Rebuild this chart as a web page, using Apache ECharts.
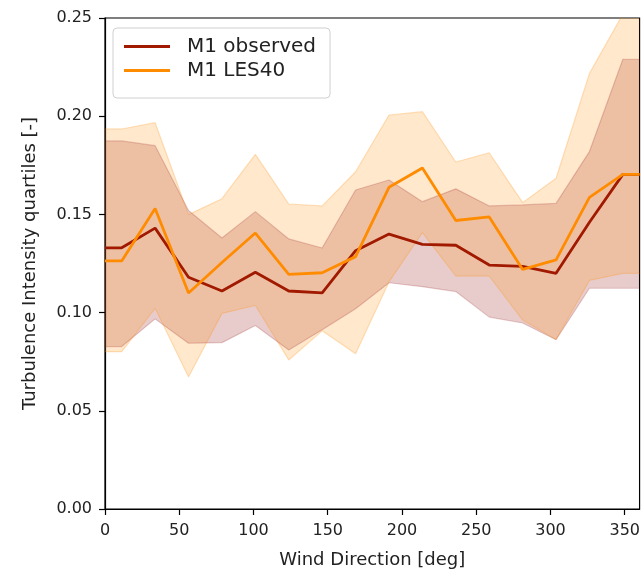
<!DOCTYPE html>
<html>
<head>
<meta charset="utf-8">
<script src="https://cdn.jsdelivr.net/npm/echarts@6/dist/echarts.min.js"></script>
<style>
html,body{margin:0;padding:0;background:#fff;}
#chart{width:643px;height:574px;}
</style>
</head>
<body>
<div id="chart"></div>
<script>
// Wind direction bins (deg)
var dirs = [0, 11.25, 33.75, 56.25, 78.75, 101.25, 123.75, 146.25, 168.75, 191.25, 213.75, 236.25, 258.75, 281.25, 303.75, 326.25, 348.75, 360];
// M1 observed: median and quartiles
var obsMedian = [0.133, 0.133, 0.143, 0.118, 0.111, 0.1205, 0.111, 0.110, 0.1315, 0.140, 0.1347, 0.1343, 0.1242, 0.1235, 0.120, 0.146, 0.1704, 0.1704];
var obsLow = [0.0827, 0.0827, 0.0968, 0.0844, 0.0847, 0.0934, 0.081, 0.0913, 0.102, 0.1152, 0.1132, 0.1107, 0.0977, 0.0947, 0.0862, 0.1124, 0.1124, 0.1124];
var obsHigh = [0.1874, 0.1874, 0.1850, 0.152, 0.138, 0.1514, 0.1375, 0.1329, 0.1624, 0.1675, 0.1565, 0.163, 0.1543, 0.1548, 0.1556, 0.182, 0.229, 0.229];
// M1 LES40: median and quartiles
var lesMedian = [0.1263, 0.1263, 0.153, 0.110, 0.1255, 0.1405, 0.1195, 0.1203, 0.1285, 0.1638, 0.1736, 0.1469, 0.1487, 0.122, 0.1268, 0.1587, 0.1704, 0.1704];
var lesLow = [0.0801, 0.0801, 0.1022, 0.0672, 0.0996, 0.1036, 0.0759, 0.0907, 0.0791, 0.1156, 0.1407, 0.1186, 0.1186, 0.0962, 0.0863, 0.1164, 0.120, 0.120];
var lesHigh = [0.1935, 0.1935, 0.1967, 0.1499, 0.158, 0.1806, 0.1553, 0.1543, 0.1717, 0.2006, 0.2023, 0.1767, 0.1814, 0.156, 0.1684, 0.2218, 0.252, 0.252];
// Axis ticks
var xTicks = [0, 50, 100, 150, 200, 250, 300, 350];
var yTicks = [0, 0.05, 0.10, 0.15, 0.20, 0.25];

var FONT = 'DejaVu Sans';

function pairs(xs, ys) { return xs.map(function (x, i) { return [x, ys[i]]; }); }
function triples(xs, lo, hi) { return xs.map(function (x, i) { return [x, lo[i], hi[i]]; }); }

function bandSeries(name, lo, hi, fill) {
  var data = triples(dirs, lo, hi);
  return {
    name: name, type: 'custom', silent: true,
    encode: {x: 0, y: [1, 2]},
    data: data,
    renderItem: function (params, api) {
      if (params.dataIndex !== 0) return null;
      var upper = [], lower = [];
      for (var i = 0; i < data.length; i++) {
        upper.push(api.coord([data[i][0], data[i][2]]));
        lower.push(api.coord([data[i][0], data[i][1]]));
      }
      var cs = params.coordSys;
      return {
        type: 'polygon',
        shape: {points: upper.concat(lower.reverse())},
        style: {fill: fill, stroke: null},
        clipPath: {type: 'rect', shape: {x: cs.x, y: cs.y, width: cs.width, height: cs.height}},
        silent: true
      };
    }
  };
}

function edgeSeries(name, ys, color) {
  return {name: name, type: 'line', symbol: 'none', clip: true, silent: true,
          data: pairs(dirs, ys), lineStyle: {color: color, width: 1.2}};
}

var chart = echarts.init(document.getElementById('chart'), null, {renderer: 'canvas'});
var option = {
  animation: false,
  textStyle: {fontFamily: FONT},
  grid: {left: 105, right: 2, top: 18, bottom: 65, show: true, borderColor: '#000', borderWidth: 1.2, backgroundColor: 'transparent'},
  legend: {
    data: ['M1 observed', 'M1 LES40'],
    orient: 'vertical',
    left: 113, top: 28,
    padding: [8, 14, 17, 11],
    itemGap: 3,
    icon: 'rect',
    itemWidth: 46, itemHeight: 3,
    backgroundColor: '#fff',
    borderColor: '#d0d0d0', borderWidth: 1, borderRadius: 4,
    textStyle: {fontFamily: FONT, fontSize: 20, color: '#222', lineHeight: 21, padding: [0, 0, 0, 12]}
  },
  xAxis: {
    type: 'value', min: 0, max: 360,
    name: 'Wind Direction [deg]', nameLocation: 'middle', nameGap: 42,
    nameTextStyle: {fontFamily: FONT, fontSize: 18, color: '#222'},
    axisLine: {show: true, onZero: false, lineStyle: {color: '#000', width: 1.2}},
    axisTick: {show: true, inside: false, length: 6, customValues: xTicks, lineStyle: {color: '#000', width: 1.2}},
    axisLabel: {fontFamily: FONT, fontSize: 16, color: '#222', margin: 14, customValues: xTicks},
    splitLine: {show: false}
  },
  yAxis: {
    type: 'value', min: 0, max: 0.25,
    name: 'Turbulence Intensity quartiles [-]', nameLocation: 'middle', nameGap: 66,
    nameTextStyle: {fontFamily: FONT, fontSize: 18, color: '#222'},
    axisLine: {show: true, onZero: false, lineStyle: {color: '#000', width: 1.2}},
    axisTick: {show: true, inside: false, length: 6, customValues: yTicks, lineStyle: {color: '#000', width: 1.2}},
    axisLabel: {fontFamily: FONT, fontSize: 16, color: '#222', margin: 13, customValues: yTicks,
      formatter: function (v) { return v.toFixed(2); }},
    splitLine: {show: false}
  },
  series: [
    bandSeries('obsBand', obsLow, obsHigh, 'rgba(139,0,0,0.2)'),
    edgeSeries('obsLowEdge', obsLow, 'rgba(139,0,0,0.2)'),
    edgeSeries('obsHighEdge', obsHigh, 'rgba(139,0,0,0.2)'),
    bandSeries('lesBand', lesLow, lesHigh, 'rgba(255,140,0,0.2)'),
    edgeSeries('lesLowEdge', lesLow, 'rgba(255,140,0,0.25)'),
    edgeSeries('lesHighEdge', lesHigh, 'rgba(255,140,0,0.25)'),
    {name: 'M1 observed', type: 'line', symbol: 'none', clip: true,
     data: pairs(dirs, obsMedian), lineStyle: {color: '#a11a00', width: 2.8}, itemStyle: {color: '#a11a00'}},
    {name: 'M1 LES40', type: 'line', symbol: 'none', clip: true,
     data: pairs(dirs, lesMedian), lineStyle: {color: '#ff8c00', width: 2.8}, itemStyle: {color: '#ff8c00'}}
  ]
};
chart.setOption(option);
</script>
</body>
</html>
